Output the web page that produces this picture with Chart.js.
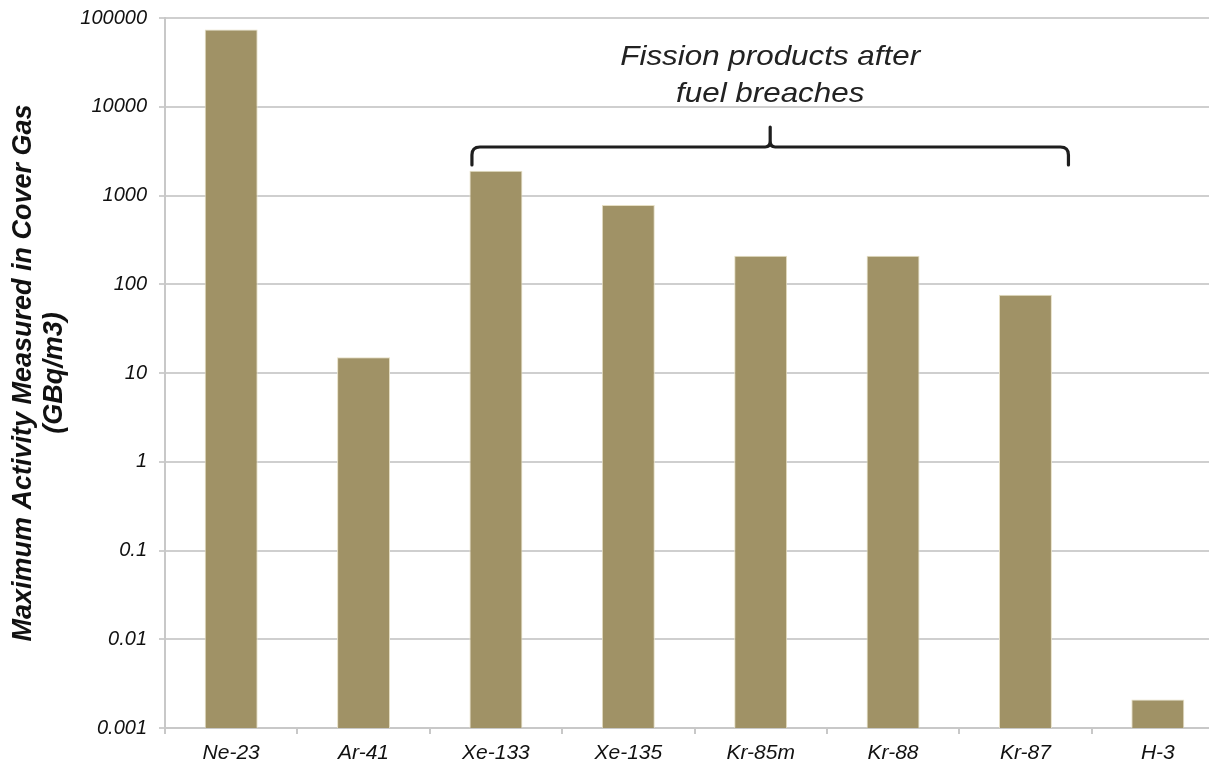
<!DOCTYPE html>
<html>
<head>
<meta charset="utf-8">
<script src="https://cdn.jsdelivr.net/npm/chart.js@4/dist/chart.umd.min.js"></script>
<style>
  html, body { margin: 0; padding: 0; background: #fff; overflow: hidden; }
  #wrap { width: 1224px; height: 763px; }
</style>
</head>
<body>
<div id="wrap"><canvas id="c" width="1224" height="763"></canvas></div>
<script>
// Isotopes detected in the reactor cover gas
const isotopes = ['Ne-23', 'Ar-41', 'Xe-133', 'Xe-135', 'Kr-85m', 'Kr-88', 'Kr-87', 'H-3'];
// Maximum activity, GBq/m3
const maxActivity = [74000, 15, 1900, 780, 210, 210, 76, 0.0021];
// Decade ticks of the logarithmic axis
const yTickLabels = ['0.001', '0.01', '0.1', '1', '10', '100', '1000', '10000', '100000'];
const yTitleLines = ['Maximum Activity Measured in Cover Gas', '(GBq/m3)'];
const noteLines = ['Fission products after', 'fuel breaches'];
// Index range of the fission-product group marked by the brace
const fissionFirst = 2, fissionLast = 6;

const FONT = '"Liberation Sans", Arial, Helvetica, sans-serif';

// Curly brace + caption over the fission-product bars
const braceNote = {
  id: 'braceNote',
  afterDatasetsDraw(chart) {
    const { ctx, scales: { x } } = chart;
    const x0 = x.getPixelForValue(fissionFirst) - 24;
    const x1 = x.getPixelForValue(fissionLast) + 43;
    const xm = (x0 + x1) / 2;
    const yLine = 147, yEnd = 165, yTip = 127, r = 8;
    ctx.save();
    ctx.strokeStyle = '#1e1e1e';
    ctx.lineWidth = 3.2;
    ctx.lineCap = 'round';
    ctx.lineJoin = 'round';
    ctx.beginPath();
    ctx.moveTo(x0, yEnd);
    ctx.lineTo(x0, yLine + r);
    ctx.quadraticCurveTo(x0, yLine, x0 + r, yLine);
    ctx.lineTo(xm - 5, yLine);
    ctx.quadraticCurveTo(xm, yLine, xm, yLine - 6);
    ctx.lineTo(xm, yTip);
    ctx.moveTo(xm, yLine - 6);
    ctx.quadraticCurveTo(xm, yLine, xm + 5, yLine);
    ctx.lineTo(x1 - r, yLine);
    ctx.quadraticCurveTo(x1, yLine, x1, yLine + r);
    ctx.lineTo(x1, yEnd);
    ctx.stroke();

    ctx.fillStyle = '#222';
    ctx.font = 'italic 28px ' + FONT;
    ctx.textAlign = 'center';
    ctx.textBaseline = 'alphabetic';
    const baselines = [65, 102];
    noteLines.forEach((t, i) => {
      ctx.save();
      ctx.translate(xm, baselines[i]);
      ctx.scale(1.12, 1);
      ctx.fillText(t, 0, 0);
      ctx.restore();
    });
    ctx.restore();
  }
};

new Chart(document.getElementById('c'), {
  type: 'bar',
  data: {
    labels: isotopes,
    datasets: [{
      data: maxActivity,
      backgroundColor: '#a09266',
      borderColor: '#e6dfc4',
      borderWidth: 1,
      borderSkipped: 'bottom',
      barPercentage: 0.4,
      categoryPercentage: 1.0
    }]
  },
  options: {
    responsive: false,
    animation: false,
    layout: { padding: { top: 18, left: 0, right: 0, bottom: 0 } },
    plugins: { legend: { display: false }, tooltip: { enabled: false } },
    scales: {
      x: {
        grid: {
          display: true,
          drawOnChartArea: false,
          drawTicks: true,
          tickLength: 6,
          color: '#c8c8c8',
          lineWidth: 2,
          offset: true
        },
        border: { color: '#c8c8c8', width: 2 },
        ticks: {
          color: '#111',
          font: { family: FONT, size: 21, style: 'italic' },
          padding: 7,
          maxRotation: 0,
          autoSkip: false
        },
        afterFit(scale) {
          scale.height = 35;
          scale.paddingLeft = 0;
          scale.paddingRight = 0;
        }
      },
      y: {
        type: 'logarithmic',
        min: Number(yTickLabels[0]),
        max: Number(yTickLabels[yTickLabels.length - 1]),
        afterBuildTicks(scale) {
          scale.ticks = yTickLabels.map(v => ({ value: Number(v) }));
        },
        grid: {
          color: '#cfcfcf',
          lineWidth: 2,
          tickLength: 6,
          drawTicks: true
        },
        border: { color: '#c8c8c8', width: 2 },
        ticks: {
          color: '#111',
          font: { family: FONT, size: 20, style: 'italic' },
          padding: 12,
          autoSkip: false,
          callback(value) {
            const t = yTickLabels.find(s => Math.abs(Number(s) - value) / value < 1e-6);
            return t === undefined ? '' : t;
          }
        },
        title: {
          display: true,
          text: yTitleLines,
          color: '#111',
          font: { family: FONT, size: 27, weight: 'bold', style: 'italic', lineHeight: 1.15 },
          padding: { top: 8, bottom: 0 }
        },
        afterFit(scale) {
          scale.width = 165;
          scale.paddingTop = 0;
          scale.paddingBottom = 0;
        }
      }
    }
  },
  plugins: [braceNote]
});
</script>
</body>
</html>
